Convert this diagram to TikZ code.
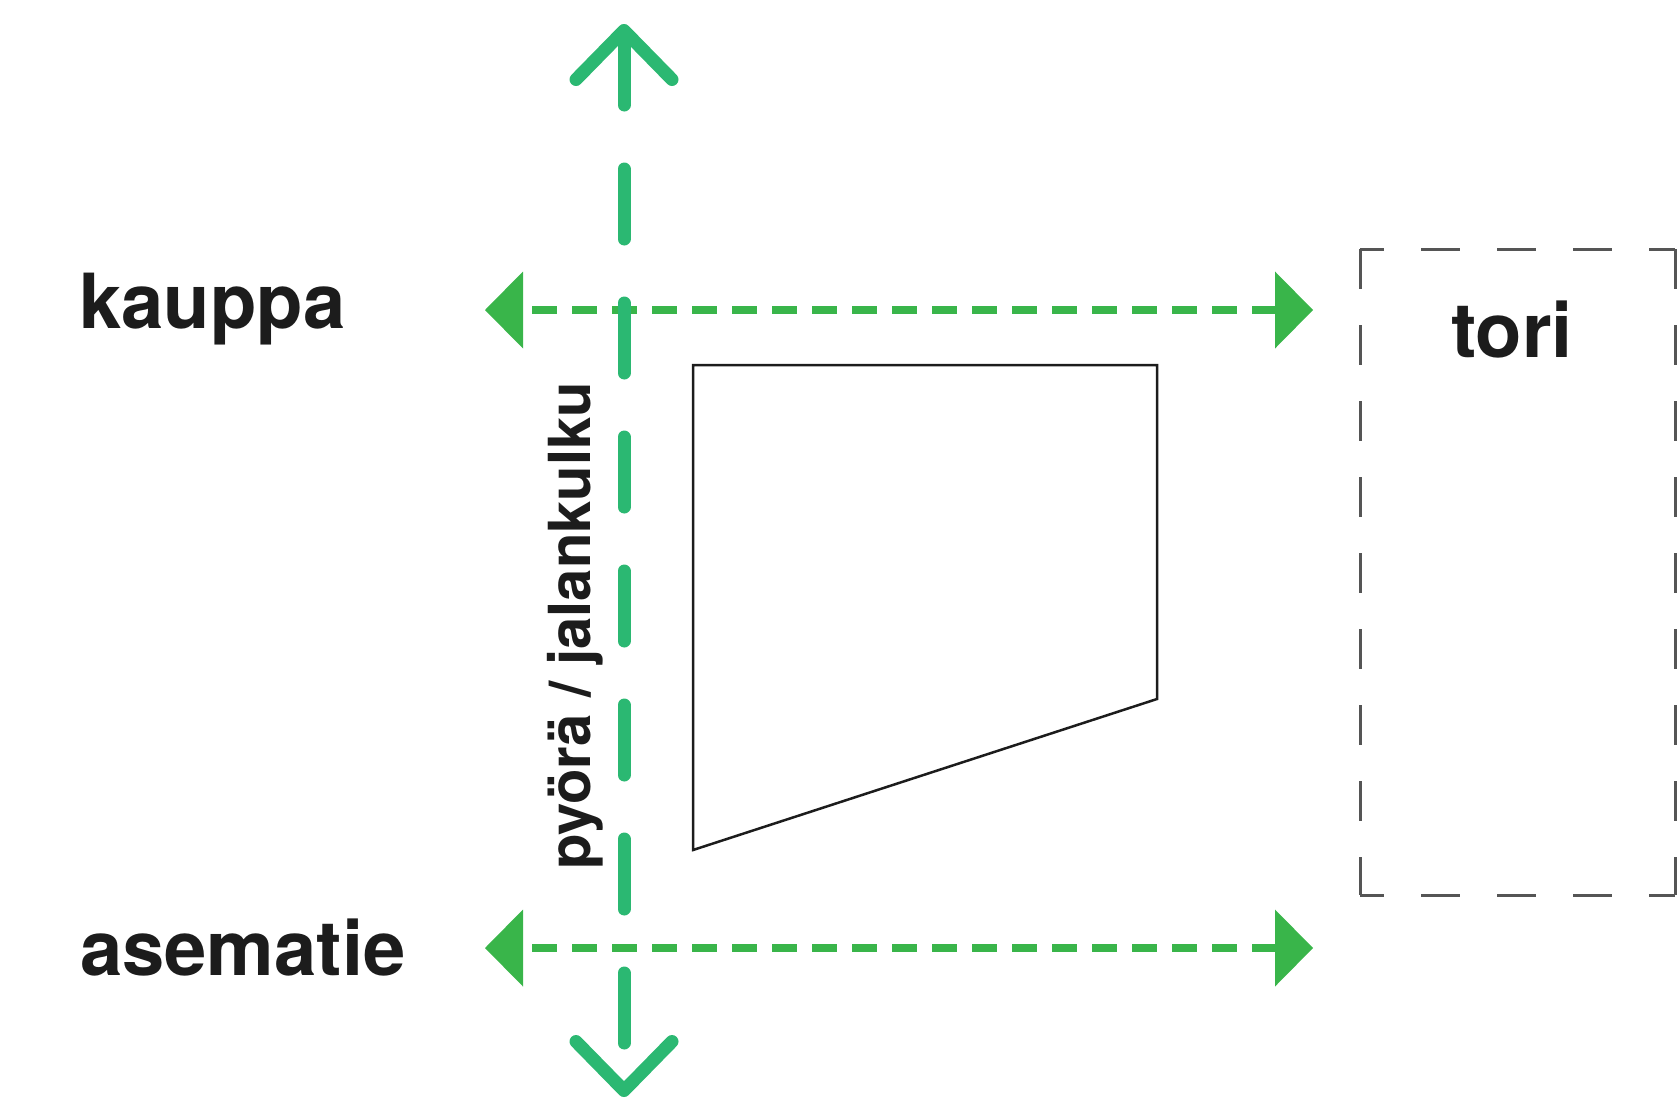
\documentclass[tikz,border=0pt]{standalone}
\usepackage{fontspec}
\setmainfont{TeX Gyre Heros}
\usetikzlibrary{arrows.meta}
\definecolor{streetgreen}{RGB}{57,181,74}
\definecolor{bikegreen}{RGB}{43,184,114}
\definecolor{ink}{RGB}{28,28,28}
\definecolor{boxgray}{RGB}{85,85,85}
\tikzstyle{namenode}=[inner sep=0pt,%
                      text=ink,%
                      font=\bfseries\fontsize{76}{76}\selectfont]
\tikzstyle{street}=[draw=streetgreen,%
                    line width=8pt,%
                    dash pattern=on 25pt off 15pt,%
                    dash phase=31pt,%
                    {Triangle[length=38pt,width=77pt,line width=0pt]}-{Triangle[length=38pt,width=77pt,line width=0pt]}]
\tikzstyle{bikeline}=[draw=bikegreen,line width=13pt,line cap=round,dash pattern=on 70pt off 64pt,dash phase=2pt,%
                      {Straight Barb[round,length=49pt,width=96pt]}-{Straight Barb[round,length=49pt,width=96pt]}]
\tikzstyle{plotline}=[draw=ink,line width=2.5pt,line join=miter]
\tikzstyle{squarebox}=[draw=boxgray,line width=3pt]

\begin{document}
\begin{tikzpicture}[x=1pt,y=-1pt]
            \useasboundingbox (0,0) rectangle (1680,1103);
            % street names
            \node[namenode][anchor=base west] (kauppa) at (79,328) {kauppa};
            \node[namenode][anchor=base west] (asematie) at (80,975) {asematie};
            \node[namenode][anchor=base] (tori) at (1512,357) {tori};
            \node[namenode][font=\bfseries\fontsize{58}{58}\selectfont,rotate=90,anchor=base] (pyora) at (590,626) {pyörä / jalankulku};
            % ends of the routes
            \coordinate (kauppaW) at (485,310);
            \coordinate (kauppaE) at (1313,310);
            \coordinate (asemaW) at (485,948);
            \coordinate (asemaE) at (1313,948);
            \coordinate (pathN) at (624,24);
            \coordinate (pathS) at (624,1097);
            \draw[street] (kauppaW) -- (kauppaE);
            \draw[street] (asemaW) -- (asemaE);
            \draw[bikeline] (pathN) -- (pathS);
            % the plot
            \draw[plotline] (693,365) -- (1157,365) -- (1157,699) -- (693,850) -- cycle;
            % the square
            \draw[squarebox][dash pattern=on 39pt off 37pt,dash phase=15pt] (1360,249) -- (1675,249);
            \draw[squarebox][dash pattern=on 39pt off 37pt,dash phase=15pt] (1360,895) -- (1675,895);
            \draw[squarebox][dash pattern=on 40pt off 36pt] (1360,249) -- (1360,895);
            \draw[squarebox][dash pattern=on 40pt off 36pt] (1675,249) -- (1675,895);
\end{tikzpicture}
\end{document}
